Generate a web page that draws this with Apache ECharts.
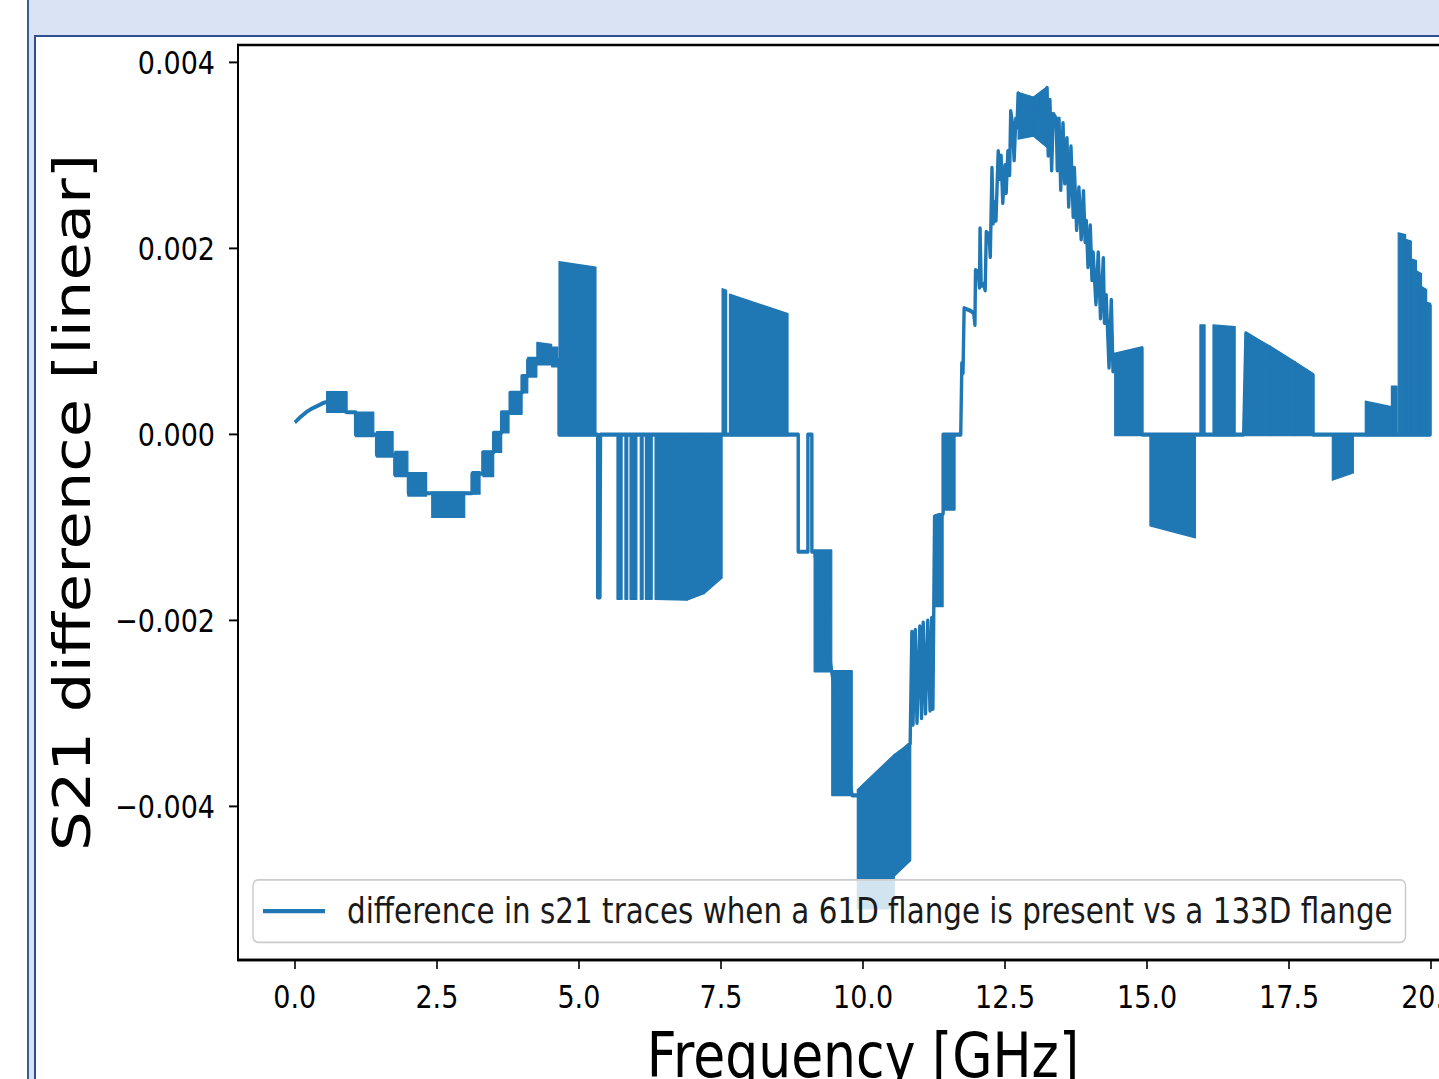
<!DOCTYPE html>
<html>
<head>
<meta charset="utf-8">
<title>S21 difference</title>
<script src="https://cdn.jsdelivr.net/npm/echarts@6.0.0/dist/echarts.min.js"></script>
<style>
  html, body { margin: 0; padding: 0; width: 1439px; height: 1079px; overflow: hidden; background: #fff; }
  .slide-edge { position: absolute; left: 27px; top: 0; right: 0; bottom: 0; background: #dae3f3; border-left: 2px solid #3a5a9c; }
  .slide-page { position: absolute; left: 34px; top: 35px; right: -4px; bottom: -4px; background: #fff; border-left: 2px solid #2f4f8f; border-top: 2px solid #2f4f8f; }
  /* the screenshot is stretched vertically, so the chart is drawn at 1/1.2 height and scaled */
  #chart { position: absolute; left: 0; top: 0; width: 1600px; height: 900px; transform: scale(1, 1.2); transform-origin: 0 0; }
</style>
</head>
<body>
<div class="slide-edge"></div>
<div class="slide-page"></div>
<div id="chart"></div>
<script>
// values are read in units of 1e-3 (linear S21 difference), frequency in GHz
const MILLI = 1e-3

// main trace: [GHz, diff*1e3]
const tracePoints = [
  [0, 0.13], [0.1, 0.19], [0.2, 0.24], [0.3, 0.28], [0.4, 0.31], [0.5, 0.34], [0.56, 0.35],
  [0.92, 0.24], [1.07, 0.24], [1.07, 0.0], [1.44, 0.0], [1.44, -0.22], [1.76, -0.22],
  [1.76, -0.43], [2.0, -0.43], [2.0, -0.63], [2.41, -0.63], [2.99, -0.63], [3.12, -0.63],
  [3.12, -0.42], [3.31, -0.42], [3.31, -0.19], [3.5, -0.19], [3.5, 0.02], [3.64, 0.02],
  [3.64, 0.24], [3.79, 0.24], [3.79, 0.45], [4.0, 0.45], [4.0, 0.63], [4.1, 0.63],
  [4.1, 0.8], [4.26, 0.8], [4.52, 0.85], [4.63, 0.8], [4.65, 0.8], [4.65, 0],
  [5.3, 0], [5.33, 0], [5.33, -1.75], [5.37, -1.75], [5.38, 0], [8.68, 0], [8.86, 0],
  [8.86, -1.26], [9.03, -1.26], [9.03, 0], [9.1, 0], [9.1, -1.26], [9.15, -1.26],
  [9.45, -2.55], [9.81, -3.88], [9.91, -3.88], [10.83, -3.32],
  [10.86, -2.12], [10.88, -3.12], [10.92, -2.1], [10.95, -3.1], [11.0, -2.06], [11.03, -3.05],
  [11.06, -2.02], [11.1, -3.0], [11.14, -2.0], [11.18, -2.97], [11.21, -1.97], [11.23, -2.95],
  [11.26, -0.88], [11.41, -0.85], [11.41, 0], [11.62, 0], [11.72, 0],
  [11.74, 0.77], [11.76, 0.66], [11.78, 1.36], [11.9, 1.33], [11.95, 1.3], [11.97, 1.18],
  [11.98, 1.77], [12.03, 1.75], [12.05, 1.58], [12.06, 2.22], [12.08, 1.6], [12.12, 1.62],
  [12.15, 1.55], [12.17, 2.18], [12.22, 2.15], [12.24, 1.91], [12.27, 2.87], [12.29, 2.27],
  [12.31, 2.5], [12.34, 2.3], [12.38, 3.05], [12.41, 2.75], [12.43, 3.0], [12.46, 2.49],
  [12.5, 2.9], [12.52, 2.6], [12.55, 3.05], [12.58, 2.79], [12.6, 3.48], [12.63, 3.35],
  [12.66, 2.95], [12.69, 3.4], [12.71, 3.3], [12.73, 3.67], [13.0, 3.4], [13.24, 3.73],
  [13.26, 3.0], [13.29, 3.6], [13.32, 2.84], [13.35, 3.45], [13.4, 3.4], [13.42, 2.84],
  [13.45, 3.4], [13.48, 2.63], [13.52, 3.35], [13.55, 2.7], [13.59, 3.19], [13.62, 2.45],
  [13.66, 3.1], [13.7, 2.34], [13.72, 2.87], [13.76, 2.2], [13.8, 2.66], [13.84, 2.1],
  [13.88, 2.62], [13.91, 2.07], [13.93, 2.3], [13.96, 1.8], [14.0, 2.25], [14.03, 1.66],
  [14.05, 1.96], [14.1, 1.4], [14.14, 1.96], [14.18, 1.25], [14.23, 1.9], [14.25, 1.2],
  [14.28, 1.5], [14.33, 0.72], [14.37, 1.45], [14.4, 0.68], [14.42, 0.86], [14.91, 0.93],
  [14.91, 0], [16.55, 0], [16.7, 0], [16.74, 1.09], [17.92, 0.64], [17.92, 0],
  [19.98, 0], [19.98, 1.4]
]

// densely oscillating stretches, drawn as filled blocks (outer edges as seen):
// [GHz start, GHz end, top start, top end, bottom start, bottom end]
const stairBlocks = [
  [0.56, 0.92, 0.46, 0.46, 0.24, 0.24],
  [1.07, 1.39, 0.24, 0.24, -0.02, -0.02],
  [1.44, 1.73, 0.03, 0.03, -0.24, -0.24],
  [1.76, 1.99, -0.18, -0.18, -0.45, -0.45],
  [1.99, 2.32, -0.41, -0.41, -0.66, -0.66],
  [2.41, 2.99, -0.62, -0.62, -0.89, -0.89],
  [3.12, 3.26, -0.4, -0.4, -0.64, -0.64],
  [3.31, 3.5, -0.18, -0.18, -0.45, -0.45],
  [3.5, 3.64, 0.03, 0.03, -0.19, -0.19],
  [3.64, 3.77, 0.24, 0.24, 0.02, 0.02],
  [3.79, 4.0, 0.45, 0.45, 0.22, 0.22],
  [4.0, 4.1, 0.64, 0.64, 0.45, 0.45],
  [4.1, 4.26, 0.83, 0.83, 0.62, 0.62],
  [4.26, 4.52, 0.99, 0.97, 0.75, 0.75],
  [4.52, 4.63, 0.94, 0.94, 0.73, 0.73]
]

const midBlocks = [
  [4.65, 5.3, 1.86, 1.8, -0.01, -0.01],
  [5.67, 5.76, 0, 0, -1.77, -1.77],
  [5.81, 5.86, 0, 0, -1.77, -1.77],
  [5.9, 6.02, 0, 0, -1.77, -1.77],
  [6.08, 6.13, 0, 0, -1.77, -1.77],
  [6.17, 6.29, 0, 0, -1.77, -1.77],
  [6.34, 6.9, 0, 0, -1.77, -1.78],
  [6.9, 7.2, 0, 0, -1.78, -1.71],
  [7.2, 7.52, 0, 0, -1.71, -1.54],
  [7.52, 7.6, 1.57, 1.55, 0, 0],
  [7.65, 8.68, 1.51, 1.3, -0.01, -0.01],
  [9.14, 9.45, -1.24, -1.24, -2.55, -2.55],
  [9.45, 9.81, -2.54, -2.54, -3.88, -3.88],
  [9.9, 10.55, -3.82, -3.44, -5.1, -5.1],
  [10.55, 10.84, -3.44, -3.31, -4.75, -4.58],
  [11.27, 11.41, -0.87, -0.87, -1.85, -1.85],
  [11.41, 11.62, 0.01, 0.01, -0.81, -0.81]
]

const peakBlocks = [
  [12.73, 13.0, 3.68, 3.63, 3.18, 3.21],
  [13.0, 13.24, 3.63, 3.74, 3.21, 3.09]
]

const highBlocks = [
  [14.43, 14.91, 0.85, 0.94, -0.01, -0.01],
  [15.05, 15.85, 0.01, 0.01, -0.98, -1.11],
  [15.93, 16.02, 1.18, 1.18, 0, 0],
  [16.16, 16.55, 1.18, 1.16, -0.01, -0.01],
  [16.73, 17.17, 1.1, 0.95, -0.01, -0.01],
  [17.17, 17.61, 0.95, 0.78, -0.01, -0.01],
  [17.61, 17.93, 0.78, 0.65, -0.01, -0.01],
  [18.26, 18.63, 0.01, 0.01, -0.49, -0.41],
  [18.84, 19.3, 0.36, 0.3, -0.01, -0.01],
  [19.3, 19.4, 0.52, 0.52, -0.01, -0.01],
  [19.42, 19.55, 2.17, 2.15, -0.01, -0.01],
  [19.55, 19.65, 2.1, 2.08, -0.01, -0.01],
  [19.65, 19.74, 1.89, 1.87, -0.01, -0.01],
  [19.74, 19.83, 1.76, 1.73, -0.01, -0.01],
  [19.83, 19.92, 1.59, 1.56, -0.01, -0.01],
  [19.92, 19.99, 1.42, 1.41, -0.01, -0.01]
]

// tick labels
const freqTicks = [0, 2.5, 5, 7.5, 10, 12.5, 15, 17.5, 20]
const diffTicks = [-0.004, -0.002, 0, 0.002, 0.004]

const LEGEND_NAME = 'difference in s21 traces when a 61D flange is present vs a 133D flange'
const BLUE = '#1f77b4'
const LINE_W = 3.4
const FONT = 'DejaVu Sans'

const allBlocks = stairBlocks.concat(midBlocks, peakBlocks, highBlocks)
  .map(b => [b[0], b[1], b[2] * MILLI, b[3] * MILLI, b[4] * MILLI, b[5] * MILLI])

const renderBlock = (params, api) => {
  const f0 = api.value(0)
  const f1 = api.value(1)
  const points = [
    api.coord([f0, api.value(2)]),
    api.coord([f1, api.value(3)]),
    api.coord([f1, api.value(5)]),
    api.coord([f0, api.value(4)])
  ]
  return {
    type: 'polygon',
    shape: { points },
    style: { fill: BLUE, stroke: BLUE, lineWidth: 1.2, lineJoin: 'round' }
  }
}

const chart = echarts.init(document.getElementById('chart'), null, { renderer: 'svg' })

const option = {
  animation: false,
  grid: {
    left: 238, top: 37.5, width: 1250, height: 762.5,
    outerBoundsMode: 'none',
    show: true, backgroundColor: '#fff', borderColor: '#000', borderWidth: 2
  },
  legend: {
    data: [{ name: LEGEND_NAME, icon: 'rect' }],
    left: 253, top: 733.3,
    orient: 'horizontal',
    selectedMode: false,
    itemWidth: 62, itemHeight: 3.4,
    padding: [9, 13, 9, 10],
    backgroundColor: 'rgba(255,255,255,0.8)',
    borderColor: '#cccccc', borderWidth: 1.5, borderRadius: 5,
    textStyle: { fontFamily: FONT, fontSize: 29.4, color: '#1a1a1a', lineHeight: 34, padding: [0, 0, 0, 17] }
  },
  xAxis: {
    type: 'value', min: -1, max: 21,
    name: 'Frequency [GHz]', nameLocation: 'middle', nameGap: 54,
    nameTextStyle: { fontFamily: FONT, fontSize: 52, color: '#000' },
    axisLine: { show: true, onZero: false, lineStyle: { color: '#000', width: 2 } },
    axisTick: { show: true, length: 7.5, customValues: freqTicks, lineStyle: { color: '#000', width: 1.6 } },
    axisLabel: {
      customValues: freqTicks, margin: 17,
      fontFamily: FONT, fontSize: 27, color: '#000',
      formatter: v => v.toFixed(1)
    },
    splitLine: { show: false }
  },
  yAxis: {
    type: 'value', min: -0.00565, max: 0.00419,
    name: 'S21 difference [linear]', nameLocation: 'middle', nameRotate: 90, nameGap: 140,
    nameTextStyle: { fontFamily: FONT, fontSize: 52, color: '#000' },
    axisLine: { show: true, onZero: false, lineStyle: { color: '#000', width: 2 } },
    axisTick: { show: true, length: 9, customValues: diffTicks, lineStyle: { color: '#000', width: 1.6 } },
    axisLabel: {
      customValues: diffTicks, margin: 23,
      fontFamily: FONT, fontSize: 27, color: '#000',
      formatter: v => v.toFixed(3).replace('-', '\u2212')
    },
    splitLine: { show: false }
  },
  series: [
    {
      type: 'custom',
      renderItem: renderBlock,
      data: allBlocks,
      encode: { x: [0, 1], y: [2, 3, 4, 5] },
      clip: true,
      z: 2
    },
    {
      name: LEGEND_NAME,
      type: 'line',
      data: tracePoints.map(p => [p[0], p[1] * MILLI]),
      showSymbol: false,
      symbol: 'none',
      color: BLUE,
      lineStyle: { color: BLUE, width: LINE_W, join: 'round' },
      clip: true,
      z: 3
    }
  ]
}

chart.setOption(option)
</script>
</body>
</html>
